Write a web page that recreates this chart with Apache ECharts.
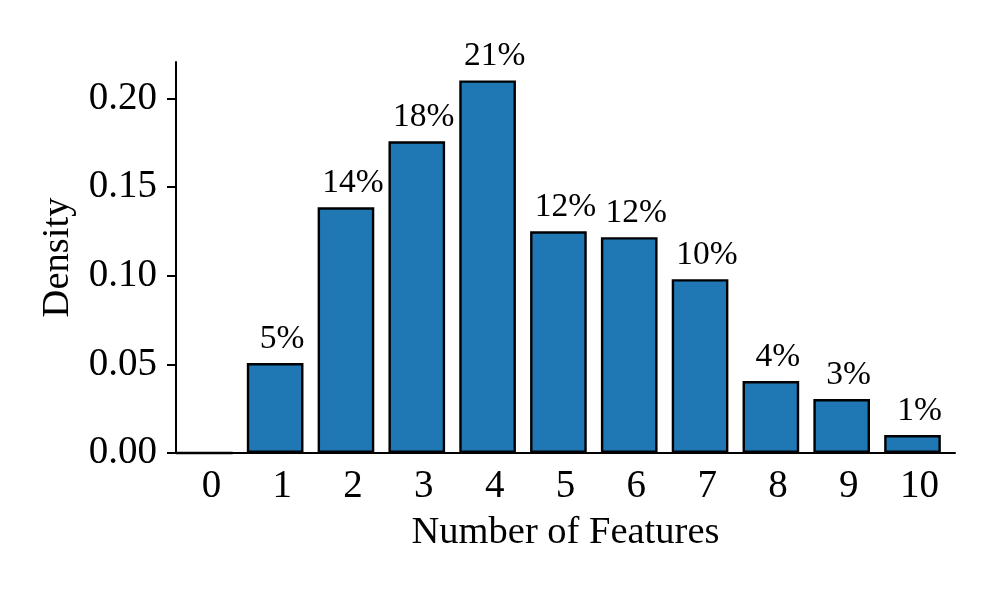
<!DOCTYPE html>
<html>
<head>
<meta charset="utf-8">
<script src="https://cdn.jsdelivr.net/npm/echarts@6/dist/echarts.min.js"></script>
<style>
  html, body { margin: 0; padding: 0; background: #fff; }
  #main { width: 997px; height: 598px; }
</style>
</head>
<body>
<div id="main"></div>
<script>
// number of features per sample, density of each count
var categories = ['0', '1', '2', '3', '4', '5', '6', '7', '8', '9', '10'];
var density = [0, 0.0507, 0.1386, 0.1758, 0.2101, 0.1250, 0.1217, 0.0980, 0.0406, 0.0304, 0.0101];
var percentLabels = ['', '5%', '14%', '18%', '21%', '12%', '12%', '10%', '4%', '3%', '1%'];
var yTicks = [0, 0.05, 0.10, 0.15, 0.20];

var font = '"Liberation Serif", "Times New Roman", serif';

var chart = echarts.init(document.getElementById('main'));

var option = {
  animation: false,
  backgroundColor: '#fff',
  grid: { left: 176, right: 42, top: 62, bottom: 145 },
  xAxis: {
    type: 'category',
    data: categories,
    boundaryGap: true,
    name: 'Number of Features',
    nameLocation: 'middle',
    nameGap: 60,
    nameTextStyle: { fontFamily: font, fontSize: 38.5, color: '#000' },
    axisLine: { lineStyle: { color: '#000', width: 2 } },
    axisTick: { alignWithLabel: true, length: 9, lineStyle: { color: '#000', width: 2 } },
    axisLabel: { fontFamily: font, fontSize: 39, color: '#000', margin: 14 }
  },
  yAxis: {
    type: 'value',
    min: 0,
    max: 0.2205,
    name: 'Density',
    nameLocation: 'middle',
    nameGap: 97,
    nameTextStyle: { fontFamily: font, fontSize: 38.5, color: '#000' },
    splitLine: { show: false },
    axisLine: { show: true, lineStyle: { color: '#000', width: 2 } },
    axisTick: { show: true, length: 9, customValues: yTicks, lineStyle: { color: '#000', width: 2 } },
    axisLabel: {
      fontFamily: font, fontSize: 39, color: '#000', margin: 19,
      customValues: yTicks,
      formatter: function (v) { return v.toFixed(2); }
    }
  },
  series: [
    {
      type: 'bar',
      data: density,
      barWidth: '80%',
      barGap: '-75%',
      itemStyle: { color: '#1f77b4', borderColor: '#000', borderWidth: 2.4 },
      label: {
        show: true,
        position: 'top',
        distance: 7,
        offset: [7, 0],
        fontFamily: font,
        fontSize: 33.5,
        color: '#000',
        formatter: function (p) { return percentLabels[p.dataIndex]; }
      }
    },
    {
      // empty companion series, only there to push the bars to the left of each slot
      type: 'bar',
      data: [],
      barWidth: '80%',
      silent: true
    }
  ]
};

chart.setOption(option);
</script>
</body>
</html>
